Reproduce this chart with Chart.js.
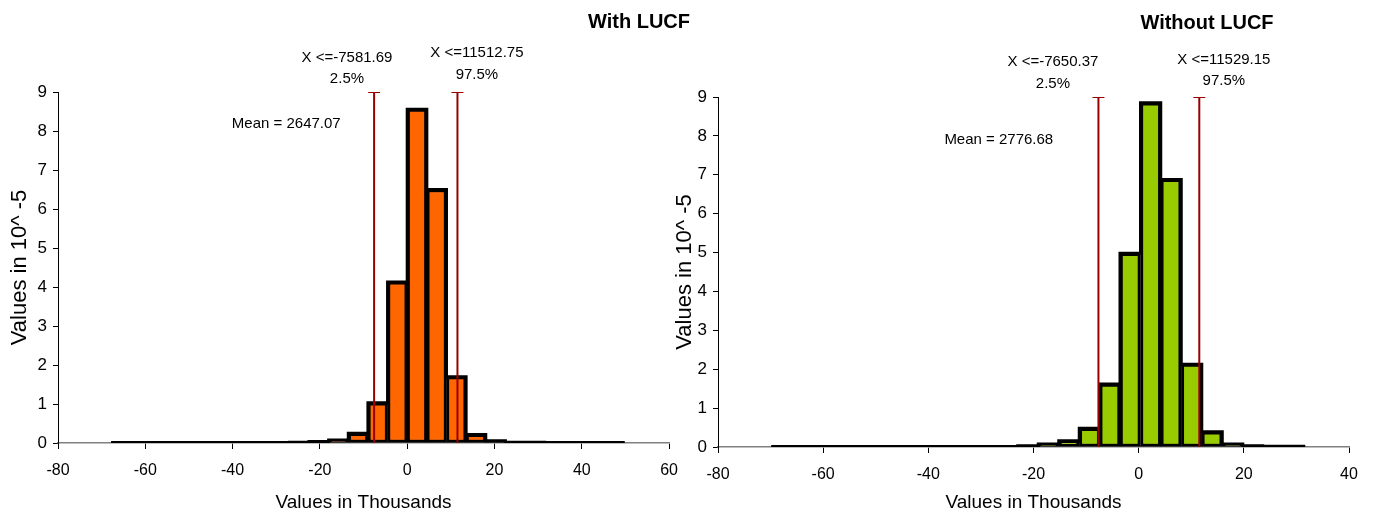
<!DOCTYPE html>
<html>
<head>
<meta charset="utf-8">
<script src="https://cdn.jsdelivr.net/npm/chart.js@4.4.1/dist/chart.umd.min.js"></script>
<style>
  body { margin: 0; background: #fff; }
  #wrap { position: relative; width: 1376px; height: 518px; }
  canvas { position: absolute; top: 0; }
</style>
</head>
<body>
<div id="wrap">
  <canvas id="leftChart" width="690" height="518" style="left:0"></canvas>
  <canvas id="rightChart" width="716" height="518" style="left:660px"></canvas>
</div>
<script>
// Histogram data (x in thousands, y in 10^-5)
const leftEdges = [-67.5, -63, -58.5, -54, -49.5, -45, -40.5, -36, -31.5, -27, -22.5, -18, -13.5, -9, -4.5,
    0, 4.5, 9, 13.5, 18, 22.5, 27, 31.5, 36, 40.5, 45, 49.5];
const leftValues = [0.01, 0.01, 0.01, 0.01, 0.01, 0.01, 0.01, 0.01, 0.01, 0.02, 0.04, 0.08, 0.25, 1.03,
    4.13, 8.56, 6.5, 1.7, 0.22, 0.06, 0.02, 0.02, 0.01, 0.01, 0.01, 0.01];

const rightEdges = [-69.6, -65.7, -61.8, -57.9, -54.1, -50.2, -46.3, -42.4, -38.5, -34.6, -30.75, -26.9, -23,
    -19.1, -15.2, -11.3, -7.4, -3.55, 0.35, 4.2, 8.1, 12, 15.9, 19.8, 23.6, 27.5, 31.4];
const rightValues = [0.01, 0.01, 0.01, 0.01, 0.01, 0.01, 0.01, 0.01, 0.01, 0.01, 0.01, 0.01, 0.03, 0.08,
    0.16, 0.48, 1.62, 4.98, 8.85, 6.88, 2.13, 0.39, 0.08, 0.03, 0.02, 0.02];

const percentLabels = ['2.5%', '97.5%'];
const leftPercentiles = [-7581.69, 11512.75];
const rightPercentiles = [-7650.37, 11529.15];
const leftMean = 2647.07;
const rightMean = 2776.68;

const leftXRange = [-80, 60];
const rightXRange = [-80, 40];
const yRange = [0, 9];

const FONT = "'Liberation Sans', Arial, sans-serif";

// draws the chart title and the percentile / mean notes
const notesPlugin = {
    id: 'notes',
    afterDatasetsDraw(chart, args, opts) {
        const ctx = chart.ctx;
        const xs = chart.scales.x, ys = chart.scales.y;
        ctx.save();
        ctx.fillStyle = '#000';
        ctx.textAlign = 'center';
        ctx.textBaseline = 'middle';
        ctx.font = 'bold 20px ' + FONT;
        ctx.fillText(opts.title, opts.titleX, opts.titleY);
        ctx.font = '15px ' + FONT;
        opts.items.forEach(it => {
            ctx.fillText(it.text, xs.getPixelForValue(it.x), ys.getPixelForValue(it.y));
        });
        ctx.restore();
    }
};

function binsToBars(edges, values) {
    return values.map((v, i) => ({ x: (edges[i] + edges[i + 1]) / 2, y: v }));
}

function binsToOutline(edges, values) {
    const pts = [{ x: edges[0], y: 0 }];
    values.forEach((v, i) => pts.push({ x: edges[i], y: v }));
    pts.push({ x: edges[edges.length - 1], y: values[values.length - 1] });
    pts.push({ x: edges[edges.length - 1], y: 0 });
    return pts;
}

function percentileLine(p) {
    return {
        type: 'line',
        data: [{ x: p / 1000, y: yRange[0] }, { x: p / 1000, y: yRange[1] }],
        borderColor: '#990000',
        borderWidth: 2,
        pointRadius: [0, 6],
        pointStyle: 'line',
        pointBorderColor: '#990000',
        pointBorderWidth: 2,
        order: 1
    };
}

function makeChart(id, cfg) {
    return new Chart(document.getElementById(id), {
        type: 'bar',
        data: {
            datasets: [
                {
                    type: 'bar',
                    data: binsToBars(cfg.edges, cfg.values),
                    backgroundColor: cfg.color,
                    borderColor: '#000',
                    borderWidth: 3,
                    borderSkipped: false,
                    barPercentage: 1,
                    categoryPercentage: 1,
                    order: 3
                },
                {
                    type: 'line',
                    data: binsToOutline(cfg.edges, cfg.values),
                    stepped: 'before',
                    borderColor: '#000',
                    borderWidth: 3,
                    pointRadius: 0,
                    fill: false,
                    order: 2
                },
                percentileLine(cfg.pct[0]),
                percentileLine(cfg.pct[1])
            ]
        },
        options: {
            responsive: false,
            animation: false,
            layout: { padding: { top: cfg.top, right: cfg.right, left: 0, bottom: 0 } },
            plugins: {
                legend: { display: false },
                tooltip: { enabled: false },
                notes: {
                    title: cfg.title,
                    titleX: cfg.titleX,
                    titleY: cfg.titleY,
                    items: cfg.notes
                }
            },
            scales: {
                x: {
                    type: 'linear',
                    min: cfg.xRange[0],
                    max: cfg.xRange[1],
                    offset: false,
                    afterFit: s => { s.height = cfg.xHeight; },
                    ticks: { stepSize: 20, color: '#000', font: { family: FONT, size: 16 }, padding: 12 },
                    grid: { drawOnChartArea: false, offset: false, tickLength: 6, color: '#000' },
                    border: { color: '#808080', width: 1.5 },
                    title: {
                        display: true,
                        text: 'Values in Thousands',
                        color: '#000',
                        font: { family: FONT, size: 19 },
                        padding: { top: 0, bottom: 4 }
                    }
                },
                y: {
                    min: yRange[0],
                    max: yRange[1],
                    afterFit: s => { s.width = cfg.yWidth; },
                    ticks: { stepSize: 1, color: '#000', font: { family: FONT, size: 17 }, padding: 6 },
                    grid: { drawOnChartArea: false, tickLength: 5, color: '#000' },
                    border: { color: '#000', width: 1 },
                    title: {
                        display: true,
                        text: 'Values in 10^ -5',
                        color: '#000',
                        font: { family: FONT, size: 22 },
                        padding: { top: cfg.yTitlePad, bottom: 0 }
                    }
                }
            }
        },
        plugins: [notesPlugin]
    });
}

makeChart('leftChart', {
    edges: leftEdges, values: leftValues, color: '#FF6600', pct: leftPercentiles,
    xRange: leftXRange, top: 92, right: 20, xHeight: 75, yWidth: 58, yTitlePad: 7,
    title: 'With LUCF', titleX: 639, titleY: 22,
    notes: [
        { text: 'X <=' + leftPercentiles[0].toFixed(2), x: -13.8, y: 9.88 },
        { text: percentLabels[0], x: -13.8, y: 9.33 },
        { text: 'X <=' + leftPercentiles[1].toFixed(2), x: 15.97, y: 10.01 },
        { text: percentLabels[1], x: 15.97, y: 9.45 },
        { text: 'Mean = ' + leftMean.toFixed(2), x: -27.7, y: 8.18 }
    ]
});

makeChart('rightChart', {
    edges: rightEdges, values: rightValues, color: '#99CC00', pct: rightPercentiles,
    xRange: rightXRange, top: 97, right: 27, xHeight: 71, yWidth: 58, yTitlePad: 12,
    title: 'Without LUCF', titleX: 547, titleY: 23,
    notes: [
        { text: 'X <=' + rightPercentiles[0].toFixed(2), x: -16.3, y: 9.90 },
        { text: percentLabels[0], x: -16.3, y: 9.35 },
        { text: 'X <=' + rightPercentiles[1].toFixed(2), x: 16.2, y: 9.96 },
        { text: percentLabels[1], x: 16.2, y: 9.41 },
        { text: 'Mean = ' + rightMean.toFixed(2), x: -26.6, y: 7.89 }
    ]
});
</script>
</body>
</html>
